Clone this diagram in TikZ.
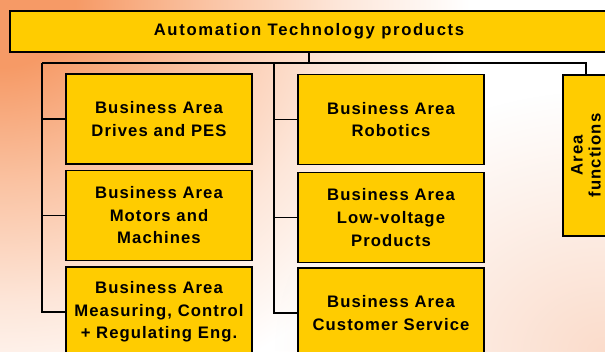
\documentclass[tikz,border=0pt]{standalone}
\usepackage{fontspec}
\usetikzlibrary{fadings}
\newfontfamily\boxfont{Liberation Sans}[LetterSpace=6.5]
\newfontfamily\topfont{Liberation Sans}[LetterSpace=10.0]
\definecolor{boxyellow}{HTML}{FFCC00}
\definecolor{bgorange}{HTML}{F69A66}
\definecolor{bgmid}{HTML}{FAC3A3}
\definecolor{bglight}{HTML}{FDE6D9}
\definecolor{bgpeach}{HTML}{FBDCCB}
\pgfdeclareradialshading{tlshade}{\pgfpoint{0bp}{0bp}}{color(0bp)=(bgorange); color(4bp)=(bgorange); color(11bp)=(bgmid); color(18bp)=(bglight); color(25bp)=(white); color(50bp)=(white)}
\tikzfading[name=peachfade, inner color=transparent!0, outer color=transparent!100]
\tikzset{
  box/.style={draw=black, line width=1.2pt, fill=boxyellow, align=center, inner sep=0pt,
    font=\boxfont\bfseries\fontsize{12.5}{16.9}\selectfont},
  sbox/.style={box, minimum width=139.5pt, minimum height=67.5pt},
  conn/.style={draw=black, line width=1.2pt},
  vlabel/.style={align=center, rotate=90, inner sep=0pt,
    font=\boxfont\bfseries\fontsize{12.5}{13.5}\selectfont}
}
\begin{document}
\begin{tikzpicture}[x=0.75pt,y=-0.75pt]
\useasboundingbox (0,0) rectangle (605,351);
\clip (0,0) rectangle (605,351);
\fill[white] (0,0) rectangle (605,351);
\shade[shading=tlshade] (0,0) ellipse [x radius=470, y radius=420];
\fill[bgpeach, path fading=peachfade, fit fading=true] (605,351) ellipse [x radius=330, y radius=260];
% top box
\node[box, minimum width=448.5pt, minimum height=30.75pt, font=\topfont\bfseries\fontsize{12.5}{15}\selectfont] (top) at (309,31.5) {Automation Technology products};
% bus coordinates
\coordinate (hl) at (42,63);
\coordinate (hm) at (274,63);
\coordinate (hr) at (586,63);
% left column
\node[sbox] (L1) at (159,119) {Business Area\\Drives and PES};
\node[sbox] (L2) at (159,215.5) {Business Area\\Motors and\\Machines};
\node[sbox] (L3) at (159,312) {Business Area\\Measuring, Control\\+ Regulating Eng.};
% middle column
\node[sbox] (M1) at (391,119.5) {Business Area\\Robotics};
\node[sbox] (M2) at (391,217.5) {Business Area\\Low-voltage\\Products};
\node[sbox] (M3) at (391,313) {Business Area\\Customer Service};
% area functions
\node[box, minimum width=34.5pt, minimum height=120.75pt] (A) at (586,155.5) {};
\node[vlabel] (AL) at (A.center) {Area\\functions};
% connectors
\draw[conn] (top.south) -- (top.south |- hl);
\draw[conn] (hl) -- (hr) -- (A.north);
\draw[conn] (hl) |- (L1.west);
\draw[conn] (hl) |- (L2.west);
\draw[conn] (hl) |- (L3.west);
\draw[conn] (hm) |- (M1.west);
\draw[conn] (hm) |- (M2.west);
\draw[conn] (hm) |- (M3.west);
\end{tikzpicture}
\end{document}
